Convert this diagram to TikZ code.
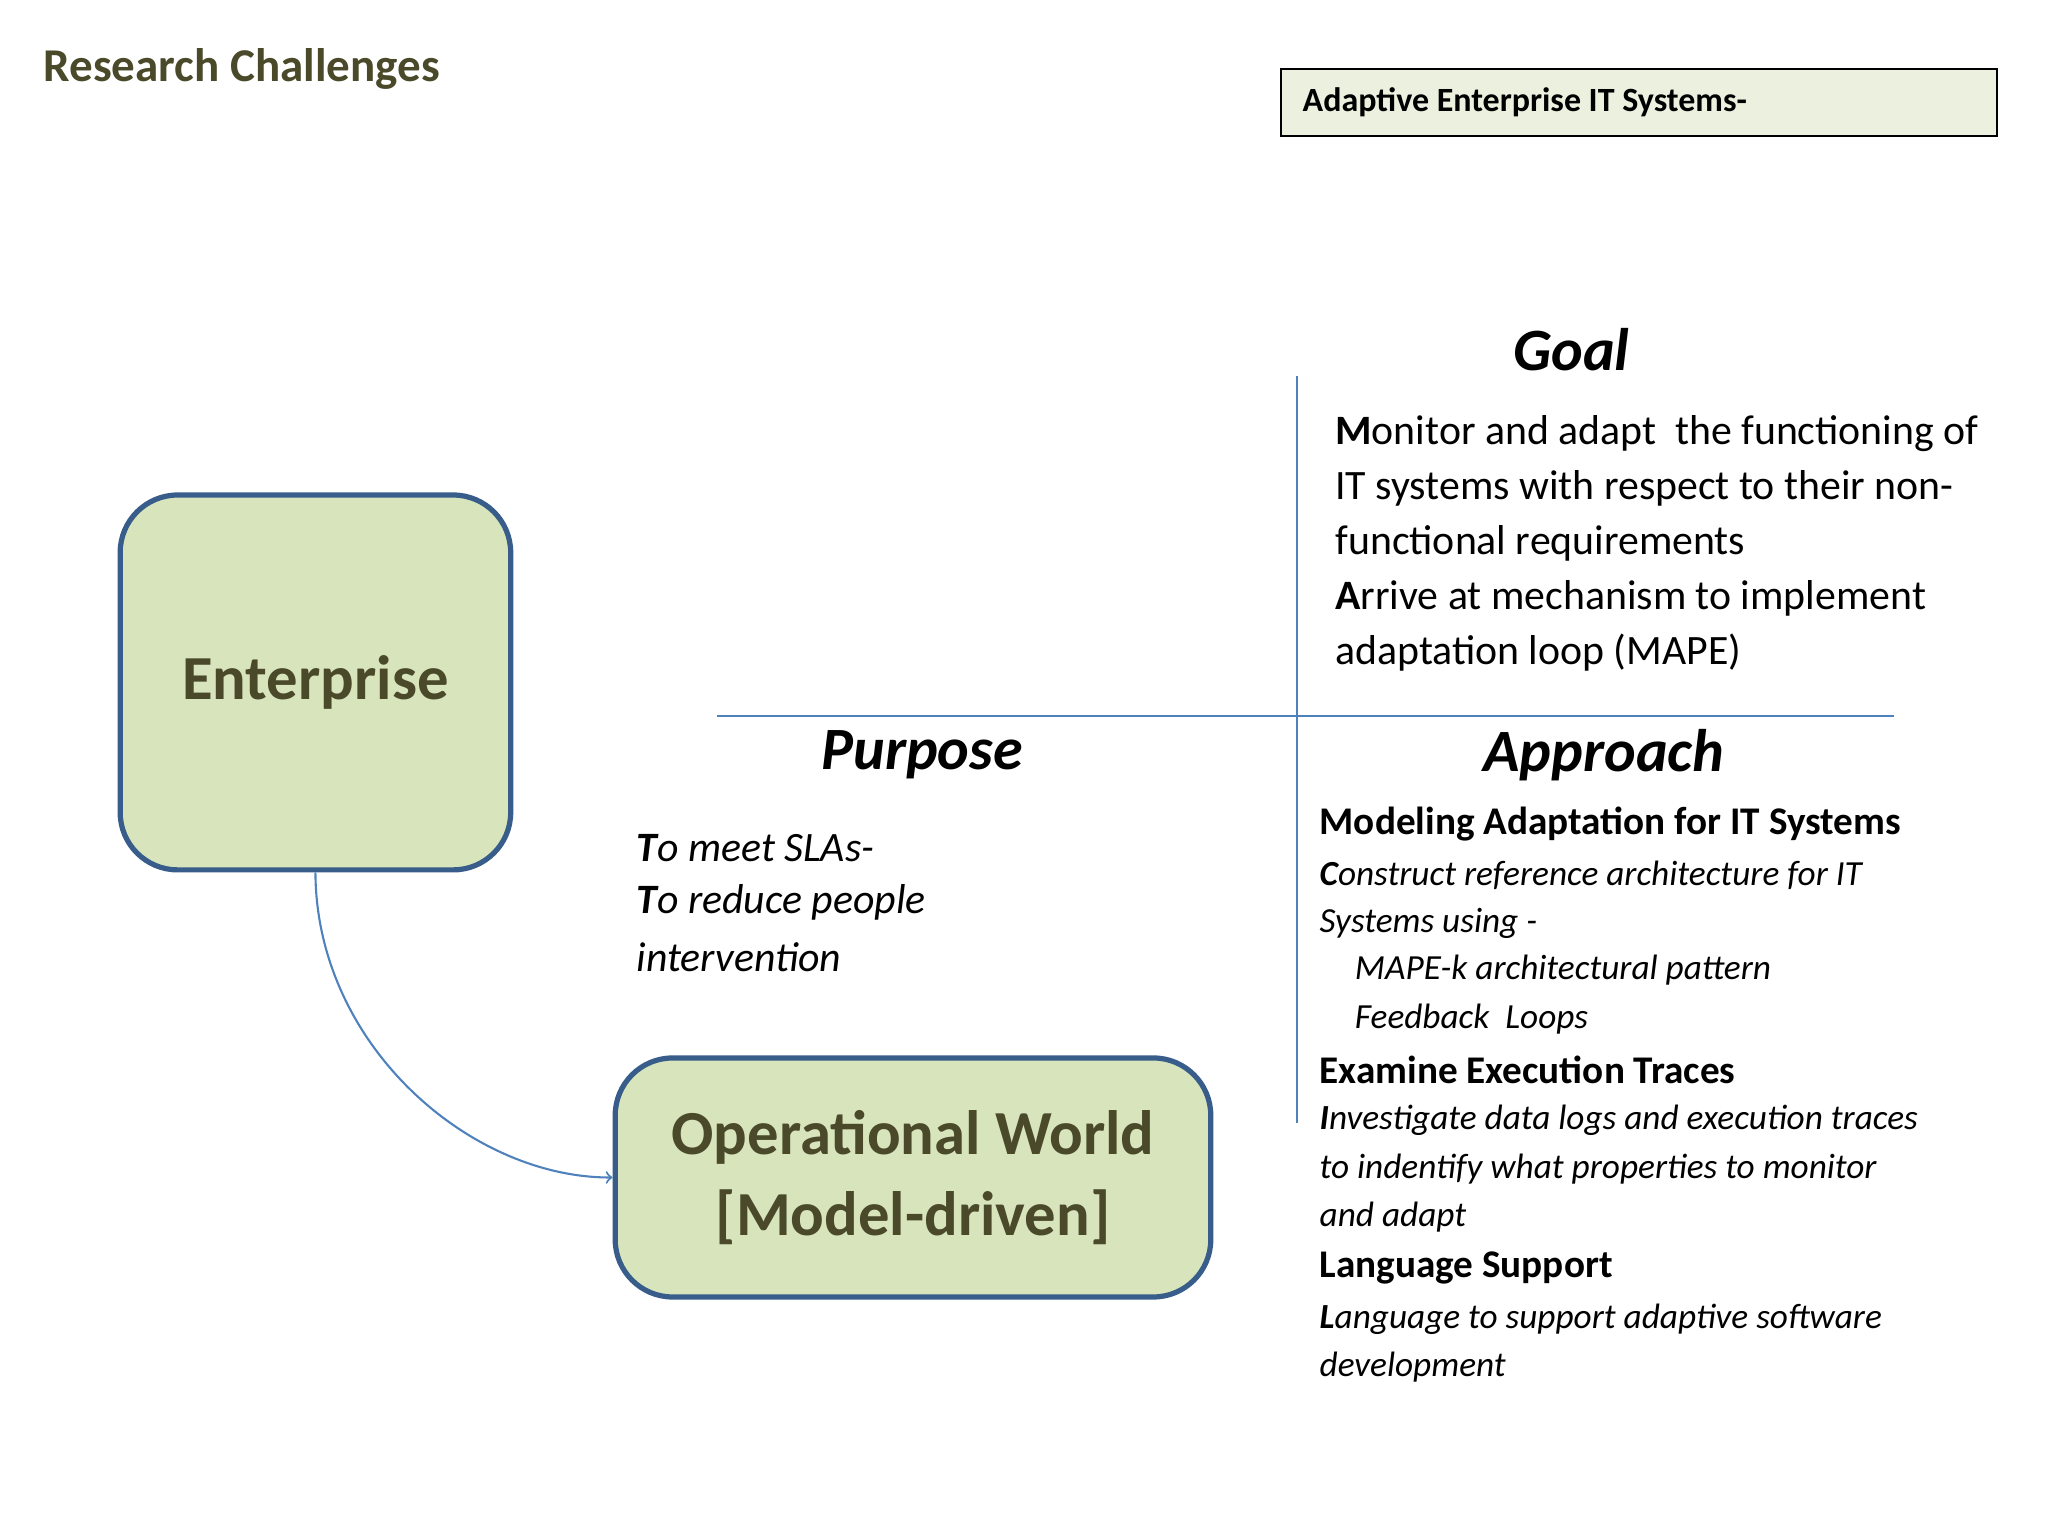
\documentclass[tikz,border=0pt]{standalone}
\usepackage{fontspec}
\setmainfont{Carlito}
\definecolor{olive}{HTML}{4A4A2A}
\definecolor{lblue}{HTML}{4F81BD}
\definecolor{dblue}{HTML}{385D8A}
\definecolor{gfill}{HTML}{D7E4BC}
\definecolor{lgfill}{HTML}{EBF1DE}
\begin{document}
\begin{tikzpicture}[x=0.5pt,y=-0.5pt,
  bigbox/.style={draw=dblue,line width=2pt,fill=gfill,rounded corners=22pt},
  head/.style={font=\fontsize{23}{27}\selectfont\bfseries\itshape},
  gtxt/.style={anchor=west,inner sep=0,font=\fontsize{16}{19}\selectfont},
  atxt/.style={anchor=west,inner sep=0,font=\fontsize{13.5}{16}\selectfont\itshape},
  ahead/.style={anchor=west,inner sep=0,font=\fontsize{15}{18}\selectfont\bfseries},
  ptxt/.style={anchor=west,inner sep=0,font=\fontsize{16}{19}\selectfont\itshape}]
\useasboundingbox (0,0) rectangle (1568,1176);
\node[anchor=west,inner sep=0,text=olive,font=\fontsize{18}{22}\selectfont\bfseries] (title) at (33,53) {Research Challenges};
\node[draw,line width=0.8pt,fill=lgfill,minimum width=274pt,minimum height=25.5pt,anchor=north west,inner sep=0] (ae) at (980,52) {};
\node[anchor=west,inner sep=0,font=\fontsize{13}{16}\selectfont\bfseries] (aet) at (997,78) {Adaptive Enterprise IT Systems-};
\coordinate (vt) at (993,288); \coordinate (vb) at (993,860);
\coordinate (hl) at (549,548); \coordinate (hr) at (1450,548);
\draw[lblue,line width=0.8pt] (vt) -- (vb);
\draw[lblue,line width=0.8pt] (hl) -- (hr);
\node[head] (goal) at (1203,268) {Goal};
\node[head] (purpose) at (706,578) {Purpose};
\node[head] (approach) at (1228,578) {Approach};
\node[gtxt] (g1) at (1022,332) {\textbf{M}onitor and adapt\ \ the functioning of};
\node[gtxt] (g2) at (1022,374) {IT systems with respect to their non-};
\node[gtxt] (g3) at (1022,416) {functional requirements};
\node[gtxt] (g4) at (1022,458) {\textbf{A}rrive at mechanism to implement};
\node[gtxt] (g5) at (1022,500) {adaptation loop (MAPE)};
\node[ptxt] (p1) at (487,649) {\textbf{T}o meet SLAs-};
\node[ptxt] (p2) at (487,691) {\textbf{T}o reduce people};
\node[ptxt] (p3) at (487,733) {intervention};
\node[ahead] (a1) at (1010,631) {Modeling Adaptation for IT Systems};
\node[atxt] (a2) at (1010,670) {\textbf{C}onstruct reference architecture for IT};
\node[atxt] (a3) at (1010,707) {Systems using -};
\node[atxt] (a4) at (1037,743) {MAPE-k architectural pattern};
\node[atxt] (a5) at (1037,780) {Feedback\ \ Loops};
\node[ahead] (a6) at (1010,819) {Examine Execution Traces};
\node[atxt] (a7) at (1010,858) {\textbf{I}nvestigate data logs and execution traces};
\node[atxt] (a8) at (1010,895) {to indentify what properties to monitor};
\node[atxt] (a9) at (1010,932) {and adapt};
\node[ahead] (a10) at (1010,971) {Language Support};
\node[atxt] (a11) at (1010,1010) {\textbf{L}anguage to support adaptive software};
\node[atxt] (a12) at (1010,1047) {development};
\node[bigbox,minimum width=149.5pt,minimum height=143.5pt,text=olive,font=\fontsize{24}{29}\selectfont\bfseries] (ent) at (241.5,522.5) {Enterprise};
\node[bigbox,minimum width=228pt,minimum height=91.5pt,text=olive,align=center,font=\fontsize{24}{31}\selectfont\bfseries] (op) at (699,901.5) {Operational World\\{[Model-driven]}};
\draw[lblue,line width=0.8pt,->] (ent.south) .. controls (242,800) and (360,902) .. (op.west);
\end{tikzpicture}
\end{document}
